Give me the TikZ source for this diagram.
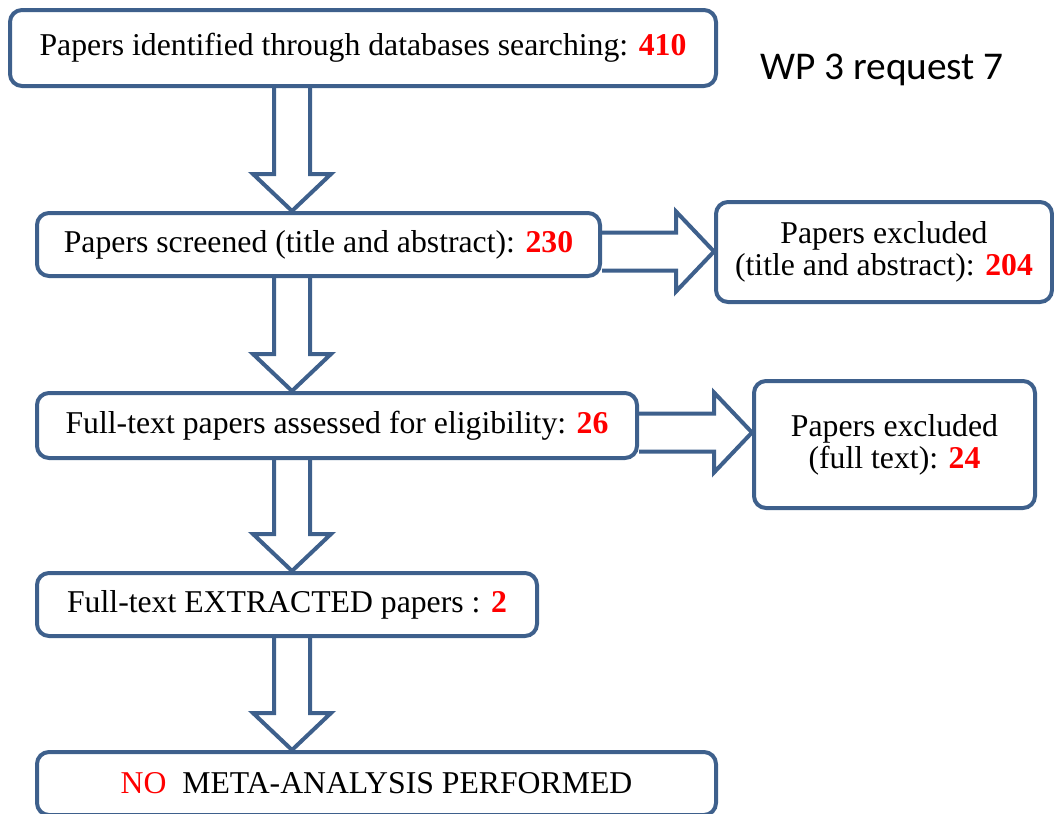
\documentclass[tikz,border=0pt]{standalone}
\usepackage{fontspec}
\setmainfont{Liberation Serif}
\newfontfamily\calibri{Carlito}
\usepackage{tikz}
\usetikzlibrary{calc}

\definecolor{framebl}{RGB}{62,96,140}
\newdimen\px \px=0.75pt
\newcommand{\redn}[1]{\textbf{\textcolor{red}{#1}}}

% block arrows between two boxes
\newcommand{\flowdown}[2]{%
  \draw[blockarrow] ($(#1.south -| axis)+(-18,0)$) -- ($(#2.north -| axis)+(-18,-37)$) -- ++(-21,0)
    -- (#2.north -| axis) -- ($(#2.north -| axis)+(39,-37)$) -- ++(-21,0) -- ($(#1.south -| axis)+(18,0)$);}
\newcommand{\flowright}[2]{%
  \draw[blockarrow] ($(#1.east)+(0,-12)$) -- ($(#2.west |- #1.east)+(-38,-12)$) -- ++(0,-21)
    -- ($(#2.west |- #1.east)+(0,7)$) -- ($(#2.west |- #1.east)+(-38,47)$) -- ++(0,-21) -- ($(#1.east)+(0,26)$);}

\tikzset{
  box/.style={draw=framebl, line width=3pt, rounded corners=12\px, fill=white, inner sep=0pt, align=center,
    font=\fontsize{23.8}{24}\selectfont},
  blockarrow/.style={draw=framebl, line width=3pt}
}

\begin{document}
\begin{tikzpicture}[x=1\px, y=-1\px]
    \clip (0,0) rectangle (1054,814);
    \fill[white] (0,0) rectangle (1054,814);
    \coordinate (axis) at (292,0);
    \node[box, minimum width=706\px, minimum height=76\px] (ident) at (363,48) {Papers identified through databases searching: \redn{410}};
    \node[box, minimum width=563\px, minimum height=63\px] (screen) at (318.5,244.5) {Papers screened (title and abstract): \redn{230}};
    \node[box, minimum width=336\px, minimum height=100\px] (exclta) at (884,252) {Papers excluded\\(title and abstract): \redn{204}};
    \node[box, minimum width=600\px, minimum height=65\px] (fulltext) at (337,425.5) {Full-text papers assessed for eligibility: \redn{26}};
    \node[box, minimum width=281\px, minimum height=127\px] (exclft) at (894.5,444.5) {Papers excluded\\(full text): \redn{24}};
    \node[box, minimum width=500\px, minimum height=63\px] (extract) at (287,604.5) {Full-text EXTRACTED papers : \redn{2}};
    \node[box, minimum width=679\px, minimum height=63\px] (nometa) at (376.5,783.5) {\textcolor{red}{NO}\ \ META-ANALYSIS PERFORMED};
    \node[font=\calibri\fontsize{29.5}{32}\selectfont, inner sep=0pt] (wp) at (882,70) {WP 3 request 7};
    \flowdown{ident}{screen}
    \flowdown{screen}{fulltext}
    \flowdown{fulltext}{extract}
    \flowdown{extract}{nometa}
    \flowright{screen}{exclta}
    \flowright{fulltext}{exclft}
\end{tikzpicture}
\end{document}
